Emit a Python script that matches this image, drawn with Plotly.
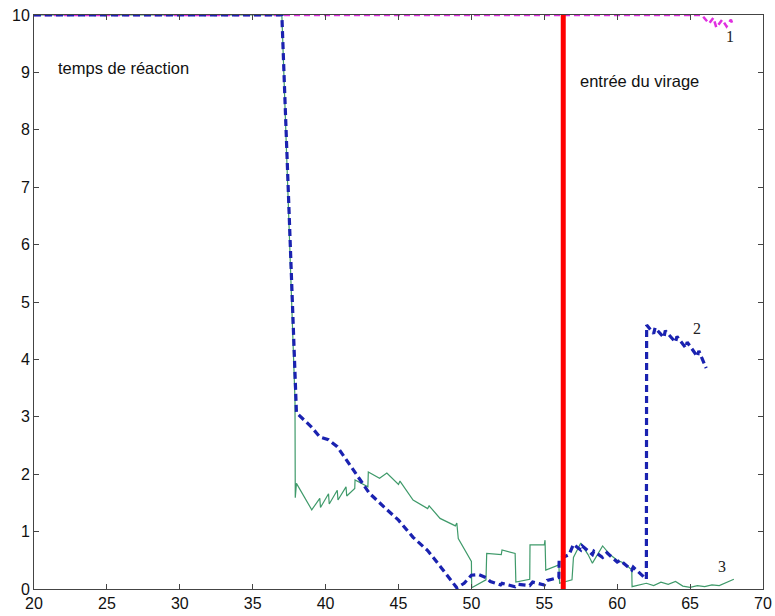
import plotly.graph_objects as go

# Series 1 (magenta)
x1 = [20, 65.8, 66.3, 66.6, 66.8, 67.2, 67.5, 67.8, 67.9]
y1 = [10, 10, 9.85, 9.95, 9.78, 9.92, 9.8, 9.92, 9.85]

# Series 2 (blue dashed)
x2 = [20, 37, 38, 39, 39.6, 40.2, 40.8, 41.5, 42, 43, 44, 45, 46, 47, 48, 49, 49.5, 50, 50.5,
      51, 51.3, 52, 52.1, 53, 53.2, 54, 54.2, 55, 55.2, 56, 56.02, 56.7, 57, 57.5, 57.6, 58.3,
      58.4, 59, 59.3, 60, 60.2, 61, 61.1, 62, 62.02, 62.5, 62.6, 63.2, 63.3, 64, 64.1, 64.7,
      64.8, 65.5, 65.6, 66.1]
y2 = [10, 10, 3.07, 2.83, 2.65, 2.6, 2.48, 2.22, 2.04, 1.67, 1.43, 1.2, 0.9, 0.67, 0.35, 0.02, 0.1, 0.24, 0.25,
      0.2, 0.13, 0.07, 0.1, 0.04, 0.08, 0.06, 0.12, 0.07, 0.15, 0.2, 0.52, 0.6, 0.78, 0.68, 0.75, 0.6,
      0.66, 0.55, 0.63, 0.47, 0.5, 0.33, 0.38, 0.17, 4.6, 4.45, 4.55, 4.38, 4.5, 4.3, 4.4, 4.2,
      4.3, 4.05, 4.15, 3.85]

# Series 3 (green)
x3 = [20, 37, 37.9, 37.92, 38.0, 39.05, 39.6, 39.65, 40.2, 40.25, 40.8, 40.85, 41.4, 41.45, 42.0, 42.02,
      42.9, 42.93, 43.7, 44.2, 45.0, 45.1, 46.0, 47.0, 47.1, 47.85, 48.9, 49.0, 49.1, 50.0, 50.02,
      51.0, 51.05, 52.05, 52.1, 53.0, 53.05, 54.0, 54.02, 55.0, 55.05, 55.1, 56.0, 56.05, 56.9, 57.0,
      57.5, 58.0, 58.3, 59.0, 59.5, 60.0, 60.5, 61.0, 61.02, 62.0, 62.5, 63.0, 63.5, 64.0, 64.5,
      65.0, 65.5, 66.0, 66.5, 67.0, 68.0]
y3 = [10, 10, 3.3, 1.59, 1.84, 1.38, 1.58, 1.42, 1.66, 1.48, 1.72, 1.55, 1.78, 1.62, 1.75, 1.9,
      1.78, 2.04, 1.93, 2.02, 1.82, 1.88, 1.55, 1.4, 1.45, 1.23, 1.1, 1.15, 0.88, 0.48, 0.02,
      0.16, 0.62, 0.6, 0.68, 0.62, 0.12, 0.17, 0.77, 0.77, 0.85, 0.33, 0.42, 0.1, 0.16, 0.55,
      0.8, 0.6, 0.45, 0.75, 0.6, 0.5, 0.45, 0.33, 0.04, 0.1, 0.06, 0.12, 0.08, 0.13, 0.05,
      0.03, 0.06, 0.04, 0.07, 0.06, 0.17]

# Curve entry marker
entry_x = [56.3, 56.3]
entry_y = [0, 10]

x_ticks = [20, 25, 30, 35, 40, 45, 50, 55, 60, 65, 70]
y_ticks = [0, 1, 2, 3, 4, 5, 6, 7, 8, 9, 10]

fig = go.Figure()
fig.add_trace(go.Scatter(x=x3, y=y3, mode="lines",
                         line=dict(color="#3f9a6a", width=1.2), showlegend=False))
fig.add_trace(go.Scatter(x=x1, y=y1, mode="lines",
                         line=dict(color="#e030e0", width=2.5, dash="6px,4px"), showlegend=False))
fig.add_trace(go.Scatter(x=x2, y=y2, mode="lines",
                         line=dict(color="#1a22b0", width=3.2, dash="7px,4px"), showlegend=False))
fig.add_trace(go.Scatter(x=entry_x, y=entry_y, mode="lines",
                         line=dict(color="#ff0000", width=5), showlegend=False))

sans = "Liberation Sans, Arial, sans-serif"
serif = "Liberation Serif, Times New Roman, serif"
fig.add_annotation(x=21.5, y=9.07, text="temps de réaction", showarrow=False,
                   xanchor="left", yanchor="middle", font=dict(family=sans, size=16.5, color="#111"))
fig.add_annotation(x=57.3, y=8.85, text="entrée du virage", showarrow=False,
                   xanchor="left", yanchor="middle", font=dict(family=sans, size=16.5, color="#111"))
fig.add_annotation(x=67.75, y=9.62, text="1", showarrow=False,
                   font=dict(family=serif, size=16, color="#222"))
fig.add_annotation(x=65.45, y=4.54, text="2", showarrow=False,
                   font=dict(family=serif, size=16, color="#222"))
fig.add_annotation(x=67.2, y=0.39, text="3", showarrow=False,
                   font=dict(family=serif, size=16, color="#222"))

axis_common = dict(showgrid=False, zeroline=False, showline=True, linecolor="#444",
                   linewidth=1, mirror="ticks", ticks="inside", ticklen=5, tickcolor="#444",
                   automargin=False,
                   tickfont=dict(family=sans, size=16, color="#111"))
fig.update_xaxes(range=[20, 70], tickvals=x_ticks, ticktext=[str(v) for v in x_ticks], **axis_common)
fig.update_yaxes(range=[0, 10], tickvals=y_ticks, ticktext=[str(v) for v in y_ticks], **axis_common)

fig.update_layout(width=775, height=616, margin=dict(l=34, r=12, t=15, b=27),
                  plot_bgcolor="white", paper_bgcolor="white")
fig.write_html("out.html", config={"displayModeBar": False},
               post_script="document.body.style.margin='0';document.body.style.overflow='hidden';")
